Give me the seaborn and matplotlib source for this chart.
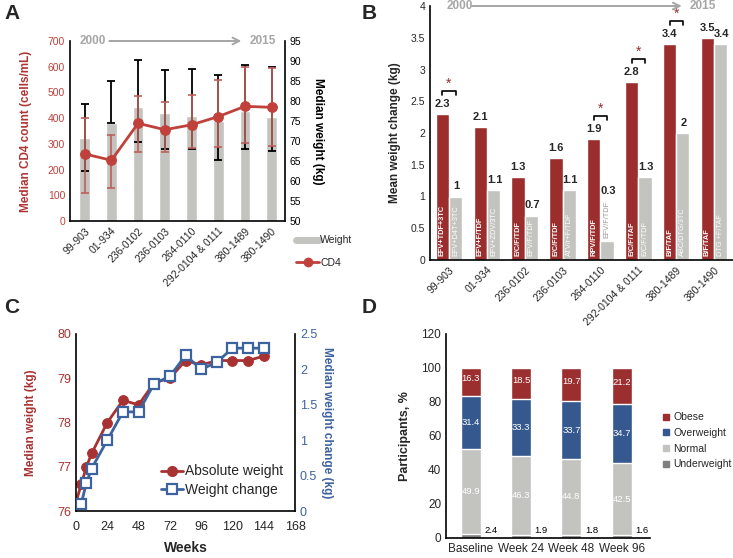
import numpy as np
import pandas as pd
import matplotlib
matplotlib.use('Agg')
import matplotlib.pyplot as plt
import seaborn as sns
from matplotlib.lines import Line2D

sns.set_theme(style='white')
plt.rcParams['font.family'] = ['Liberation Sans', 'DejaVu Sans']

# ---------------- data ----------------
studies = ['99-903', '01-934', '236-0102', '236-0103', '264-0110',
           '292-0104 & 0111', '380-1489', '380-1490']
# Panel A
weight_med = [70.8, 74.5, 78.5, 77.1, 76.2, 75.0, 77.5, 76.0]
weight_hi = [79.3, 85.1, 90.3, 87.7, 88.1, 86.5, 88.9, 88.5]
weight_lo = [62.6, 74.5, 69.8, 68.0, 68.0, 65.2, 68.0, 67.6]
cd4_med = [261, 236, 380, 355, 374, 406, 446, 442]
cd4_hi = [400, 334, 485, 461, 489, 547, 597, 595]
cd4_lo = [109, 130, 269, 269, 283, 286, 305, 292]
# Panel B
arm1_change = [2.3, 2.1, 1.3, 1.6, 1.9, 2.8, 3.4, 3.5]
arm2_change = [1.0, 1.1, 0.7, 1.1, 0.3, 1.3, 2.0, 3.4]
arm1_regimen = ['EFV+TDF+3TC', 'EFV+F/TDF', 'E/C/F/TDF', 'E/C/F/TDF',
                'RPV/F/TDF', 'E/C/F/TAF', 'B/F/TAF', 'B/F/TAF']
arm2_regimen = ['EFV+D4T+3TC', 'EFV+ZDV/3TC', 'EFV/F/TDF', 'ATV/r+F/TDF',
                'EFV/F/TDF', 'E/C/F/TDF', 'ABC/DTG/3TC', 'DTG +F/TAF']
significant = [True, False, False, False, True, True, True, False]
# Panel C
weeks_abs = [0, 4, 8, 12, 24, 36, 48, 60, 72, 84, 96, 108, 120, 132, 144]
abs_weight = [76.2, 76.6, 77.0, 77.3, 78.0, 78.5, 78.4, 78.9, 79.0, 79.4,
              79.3, 79.4, 79.4, 79.4, 79.5]
weeks_chg = [4, 8, 12, 24, 36, 48, 60, 72, 84, 96, 108, 120, 132, 144]
weight_chg = [0.1, 0.4, 0.6, 1.0, 1.4, 1.4, 1.8, 1.9, 2.2, 2.0, 2.1, 2.3,
              2.3, 2.3]
# Panel D
timepoints = ['Baseline', 'Week 24', 'Week 48', 'Week 96']
underweight = [2.4, 1.9, 1.8, 1.6]
normal = [49.9, 46.3, 44.8, 42.5]
overweight = [31.4, 33.3, 33.7, 34.7]
obese = [16.3, 18.5, 19.7, 21.2]

# ---------------- colours ----------------
GRAY = '#c3c3bf'
RED_A = '#c0413b'
RED_ERR = '#c0605a'
RED_B = '#9b2d2d'
RED_C = '#a83232'
BLUE_C = '#3c63a0'
OBESE = '#9b2f2f'
OVER = '#35598f'
NORM = '#c3c3c0'
UNDER = '#7f7f7f'
TXT_GRAY = '#a6a6a6'

W, H = 733, 558
fig = plt.figure(figsize=(W / 100, H / 100), dpi=100)


def pos(l, t, r, b):
    return [l / W, 1 - b / H, (r - l) / W, (b - t) / H]


def timeline(ax, x0, a0, a1, x1):
    ax.text(x0, 1.0, '2000', transform=ax.transAxes, color=TXT_GRAY,
            fontsize=8.5, fontweight='bold', va='center', ha='left',
            clip_on=False)
    ax.annotate('', xy=(a1, 1.0), xytext=(a0, 1.0), xycoords='axes fraction',
                textcoords='axes fraction',
                arrowprops=dict(arrowstyle='->', color=TXT_GRAY, lw=1.4,
                                mutation_scale=12))
    ax.text(x1, 1.0, '2015', transform=ax.transAxes, color=TXT_GRAY,
            fontsize=8.5, fontweight='bold', va='center', ha='left',
            clip_on=False)


def clean(ax, spines=('left', 'bottom')):
    for s in ['left', 'right', 'top', 'bottom']:
        ax.spines[s].set_visible(s in spines)
        ax.spines[s].set_color('black')
        ax.spines[s].set_linewidth(1.2)
    ax.tick_params(length=0)
    ax.grid(False)


# ================= Panel A =================
axA = fig.add_axes(pos(70, 41, 285, 221))
sns.barplot(x=studies, y=weight_med, color=GRAY, width=0.4, saturation=1,
            ax=axA)
xA = np.arange(len(studies))
wm = np.array(weight_med)
axA.errorbar(xA, wm, yerr=[wm - np.array(weight_lo), np.array(weight_hi) - wm],
             fmt='none', ecolor='black', elinewidth=1.3, capsize=3,
             capthick=1.3)
axA.set_ylim(50, 95)
axA.set_yticks(np.arange(50, 96, 5))
axA.set_xlim(-0.55, 7.5)
clean(axA, ('left', 'right', 'bottom'))
axA.set_xticks(xA)
axA.set_xticklabels(studies, rotation=45, ha='right', rotation_mode='anchor',
                    fontsize=7.5)

axA2 = axA.twinx()
cm = np.array(cd4_med)
axA2.errorbar(xA, cm, yerr=[cm - np.array(cd4_lo), np.array(cd4_hi) - cm],
              fmt='none', ecolor=RED_ERR, elinewidth=1.2, capsize=3,
              capthick=1.2)
sns.lineplot(x=xA, y=cd4_med, ax=axA2, color=RED_A, marker='o',
             markersize=7, linewidth=2, markeredgecolor=RED_A)
axA2.set_ylim(0, 700)
axA2.set_yticks(np.arange(0, 701, 100))
axA2.yaxis.tick_left()
axA2.yaxis.set_label_position('left')
axA2.set_ylabel('Median CD4 count (cells/mL)', fontsize=8.5,
                fontweight='bold', color='#b03535')
axA2.yaxis.set_label_coords(-0.175, 0.5)
clean(axA2, ())
axA2.tick_params(axis='y', labelsize=7.5, labelcolor=RED_A)
axA2.set_xlim(-0.55, 7.5)
# weight axis on the right (after twinx, which moves ticks to the left)
axA.yaxis.tick_right()
axA.yaxis.set_label_position('right')
axA.set_ylabel('Median weight (kg)', fontsize=8.5, fontweight='bold',
               rotation=270, color='black')
axA.yaxis.set_label_coords(1.18, 0.5)
axA.tick_params(axis='y', labelsize=7.5, labelcolor='black', length=0)
timeline(axA2, 0.045, 0.17, 0.81, 0.835)

handlesA = [Line2D([], [], color=GRAY, lw=5),
            Line2D([], [], color=RED_A, lw=2, marker='o', markersize=6)]
fig.legend(handlesA, ['Weight', 'CD4'], loc='upper left',
           bbox_to_anchor=(292 / W, 1 - 231 / H), frameon=False,
           fontsize=7.5, handlelength=2.2, handletextpad=0.1,
           labelspacing=1.2, borderaxespad=0)

# ================= Panel B =================
axB = fig.add_axes(pos(430, 6, 733, 260))
dfB = pd.DataFrame({'study': studies * 2,
                    'arm': ['a'] * len(studies) + ['b'] * len(studies),
                    'change': arm1_change + arm2_change})
sns.barplot(data=dfB, x='study', y='change', hue='arm',
            palette={'a': RED_B, 'b': GRAY}, width=0.7, saturation=1,
            legend=False, ax=axB)
axB.set_ylim(0, 4)
axB.set_xlim(-0.5, 7.5)
axB.set_yticks(np.arange(0, 4.01, 0.5))
axB.set_yticklabels(['0', '0.5', '1', '1.5', '2', '2.5', '3', '3.5', '4'])
clean(axB, ('left', 'bottom'))
axB.tick_params(labelsize=7.5)
axB.set_xlabel('')
axB.set_ylabel('Mean weight change (kg)', fontsize=8.5, fontweight='bold')
axB.yaxis.set_label_coords(-0.095, 0.5)
axB.set_xticks(np.arange(len(studies)))
axB.set_xticklabels(studies, rotation=45, ha='right', rotation_mode='anchor',
                    fontsize=7.5)
off = 0.175
for i in range(len(studies)):
    v1, v2 = arm1_change[i], arm2_change[i]
    axB.text(i - off, v1 + 0.08, f'{v1:g}', ha='center', va='bottom',
             fontsize=8, fontweight='bold')
    axB.text(i - off, 0.06, arm1_regimen[i], rotation=90, ha='center',
             va='bottom', color='white', fontsize=5.3, fontweight='bold')
    if v2 < 0.5:
        # short bar: regimen written above the bar, value above the regimen
        axB.text(i + off, v2 + 0.04, arm2_regimen[i], rotation=90,
                 ha='center', va='bottom', color='#9a9a9a', fontsize=5.3)
        axB.text(i + off + 0.03, 1.0, f'{v2:g}', ha='center', va='bottom',
                 fontsize=8, fontweight='bold')
    else:
        axB.text(i + off, 0.06, arm2_regimen[i], rotation=90, ha='center',
                 va='bottom', color='white', fontsize=5.3)
        axB.text(i + off + 0.03, v2 + 0.08, f'{v2:g}', ha='center',
                 va='bottom', fontsize=8, fontweight='bold')
    if significant[i]:
        yb = max(v1, v2) + 0.36
        axB.plot([i - off, i - off, i + off, i + off],
                 [yb - 0.06, yb, yb, yb - 0.06], color='black', lw=1.2,
                 clip_on=False)
        axB.text(i, yb + 0.01, '*', ha='center', va='bottom',
                 color=RED_B, fontsize=10)
timeline(axB, 0.056, 0.13, 0.84, 0.858)

# ================= Panel C =================
axC = fig.add_axes(pos(76, 334, 295, 511))
sns.lineplot(x=weeks_abs, y=abs_weight, ax=axC, color=RED_C, marker='o',
             markersize=7, linewidth=2, markeredgecolor=RED_C)
axC.set_xlim(0, 168)
axC.set_xticks(np.arange(0, 169, 24))
axC.set_ylim(76, 80)
axC.set_yticks([76, 77, 78, 79, 80])
clean(axC, ('left', 'right', 'bottom'))
axC.tick_params(labelsize=9)
axC.tick_params(axis='x', pad=7)
axC.tick_params(axis='y', labelcolor=RED_C)
axC.set_ylabel('Median weight (kg)', fontsize=8.5, fontweight='bold',
               color=RED_C)
axC.yaxis.set_label_coords(-0.18, 0.5)
axC.set_xlabel('Weeks', fontsize=10, fontweight='bold')
axC.xaxis.set_label_coords(0.5, -0.17)

axC2 = axC.twinx()
sns.lineplot(x=weeks_chg, y=weight_chg, ax=axC2, color=BLUE_C, marker='s',
             markersize=7, linewidth=2, markerfacecolor='white',
             markeredgecolor=BLUE_C, markeredgewidth=1.6)
axC2.set_ylim(0, 2.5)
axC2.set_yticks([0, 0.5, 1, 1.5, 2, 2.5])
axC2.set_yticklabels(['0', '0.5', '1', '1.5', '2', '2.5'])
clean(axC2, ())
axC2.tick_params(labelsize=9, labelcolor=BLUE_C)
axC2.set_ylabel('Median weight change (kg)', fontsize=8.5,
                fontweight='bold', color=BLUE_C, rotation=270)
axC2.yaxis.set_label_coords(1.175, 0.5)
axC2.set_xlim(0, 168)
handlesC = [Line2D([], [], color=RED_C, lw=2, marker='o', markersize=7),
            Line2D([], [], color=BLUE_C, lw=2, marker='s', markersize=7,
                   markerfacecolor='white', markeredgewidth=1.6)]
axC2.legend(handlesC, ['Absolute weight', 'Weight change'], loc='lower right',
            bbox_to_anchor=(0.97, 0.05), frameon=False, fontsize=10,
            handlelength=1.6, handletextpad=0.1, labelspacing=0.3,
            borderaxespad=0)

# ================= Panel D =================
axD = fig.add_axes(pos(446, 334, 650, 538))
u = np.array(underweight)
n = np.array(normal)
o = np.array(overweight)
b = np.array(obese)
layers = [(u + n + o + b, OBESE), (u + n + o, OVER), (u + n, NORM), (u, UNDER)]
for heights, col in layers:
    sns.barplot(x=timepoints, y=heights, color=col, width=0.4, saturation=1,
                ax=axD)
axD.set_ylim(0, 120)
axD.set_yticks(np.arange(0, 121, 20))
axD.set_xlim(-0.49, 3.56)
clean(axD, ('left', 'bottom'))
axD.tick_params(labelsize=8.5)
axD.set_ylabel('Participants, %', fontsize=9, fontweight='bold')
axD.yaxis.set_label_coords(-0.17, 0.5)
for i in range(len(timepoints)):
    axD.text(i, u[i] + n[i] / 2, f'{n[i]:.1f}', ha='center', va='center',
             color='white', fontsize=6.8)
    axD.text(i, u[i] + n[i] + o[i] / 2, f'{o[i]:.1f}', ha='center',
             va='center', color='white', fontsize=6.8)
    axD.text(i, u[i] + n[i] + o[i] + b[i] / 2 + 2, f'{b[i]:.1f}',
             ha='center', va='center', color='white', fontsize=6.8)
    axD.text(i + 0.27, 4.5, f'{u[i]:.1f}', ha='left', va='center',
             color='black', fontsize=6.8)
handlesD = [Line2D([], [], ls='none', marker='s', markersize=5,
                   markerfacecolor=c, markeredgecolor=c)
            for c in [OBESE, OVER, NORM, UNDER]]
fig.legend(handlesD, ['Obese', 'Overweight', 'Normal', 'Underweight'],
           loc='upper left', bbox_to_anchor=(658 / W, 1 - 408 / H),
           frameon=False, fontsize=7.5, handlelength=0.8, handletextpad=0.3,
           labelspacing=0.55, borderaxespad=0)

# panel letters
for lab, x, y in [('A', 4, 4), ('B', 362, 4), ('C', 4, 298), ('D', 362, 298)]:
    fig.text(x / W, 1 - y / H, lab, fontsize=15, fontweight='bold',
             va='top', ha='left')

fig.savefig('out.png', dpi=100)
